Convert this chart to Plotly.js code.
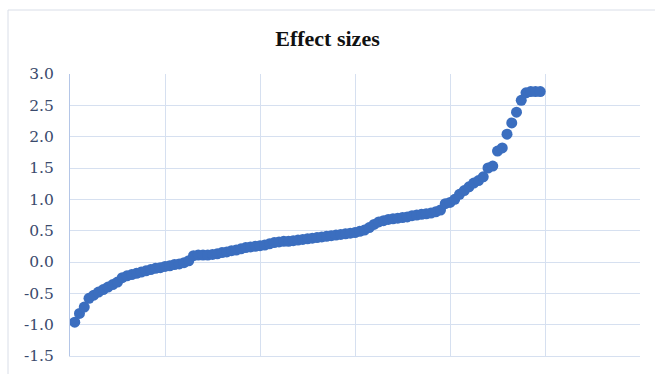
<!DOCTYPE html>
<html>
<head>
<meta charset="utf-8">
<script src="https://cdn.plot.ly/plotly-3.0.1.min.js"></script>
<style>
html,body{margin:0;padding:0;background:#fff;}
#chart{width:655px;height:374px;}
</style>
</head>
<body>
<div id="chart"></div>
<script>
const studyIndex = [];
for (let i = 1; i <= 99; i++) studyIndex.push(i);
const effectSizes = [
 -0.96,-0.82,-0.72,-0.58,-0.53,-0.48,-0.44,-0.40,-0.36,-0.32,
 -0.25,-0.22,-0.20,-0.18,-0.16,-0.14,-0.12,-0.10,-0.09,-0.07,
 -0.06,-0.04,-0.03,-0.01,0.02,0.10,0.11,0.11,0.11,0.12,
 0.13,0.15,0.16,0.18,0.19,0.21,0.23,0.24,0.25,0.26,
 0.27,0.29,0.31,0.32,0.33,0.33,0.34,0.35,0.36,0.37,
 0.38,0.39,0.40,0.41,0.42,0.43,0.44,0.45,0.46,0.47,
 0.49,0.51,0.55,0.60,0.64,0.66,0.68,0.69,0.70,0.71,
 0.72,0.74,0.75,0.76,0.77,0.78,0.80,0.83,0.93,0.95,
 1.00,1.08,1.14,1.20,1.26,1.30,1.36,1.50,1.53,1.77,
 1.82,2.04,2.22,2.39,2.58,2.70,2.72,2.72,2.72
];
const yTickVals = [-1.5,-1.0,-0.5,0.0,0.5,1.0,1.5,2.0,2.5,3.0];
const yTickText = ['-1.5','-1.0','-0.5','0.0','0.5','1.0','1.5','2.0','2.5','3.0'];

const traces = [{
  x: studyIndex, y: effectSizes, type: 'scatter', mode: 'markers',
  marker: {size: 11, color: '#3B6EBF', line: {width: 0}},
  hoverinfo: 'y'
}];

const layout = {
  width: 655, height: 374,
  margin: {l: 70, r: 15, t: 74, b: 18},
  paper_bgcolor: '#ffffff', plot_bgcolor: '#ffffff',
  showlegend: false,
  title: {text: '<b>Effect sizes</b>', x: 0.5, xanchor: 'center', y: 1 - 38/374, yref: 'container', yanchor: 'middle',
    font: {family: 'Liberation Serif, DejaVu Serif, serif', size: 22, color: '#111111'}},
  xaxis: {range: [0, 120], dtick: 20, tick0: 0, showticklabels: false, showgrid: true,
    gridcolor: '#D6E0F0', gridwidth: 1, zeroline: false, showline: true, linecolor: '#D6E0F0', ticks: '', mirror: false},
  yaxis: {range: [-1.5, 3.0], tickvals: yTickVals, ticktext: yTickText, showgrid: true,
    gridcolor: '#D6E0F0', gridwidth: 1, zeroline: false, showline: true, linecolor: '#B4C6E7', ticks: '',
    ticklabelstandoff: 12,
    tickfont: {family: 'DejaVu Serif, Liberation Serif, serif', size: 15.5, color: '#3A4A6C'}},
  shapes: [{type: 'rect', xref: 'paper', yref: 'paper',
    x0: (8-70)/570, x1: (662-70)/570, y0: (356-384)/282, y1: (356-10)/282,
    line: {color: '#D9DEE8', width: 1}, fillcolor: 'rgba(0,0,0,0)', layer: 'below'}]
};

Plotly.newPlot('chart', traces, layout, {displayModeBar: false, staticPlot: true});
</script>
</body>
</html>
